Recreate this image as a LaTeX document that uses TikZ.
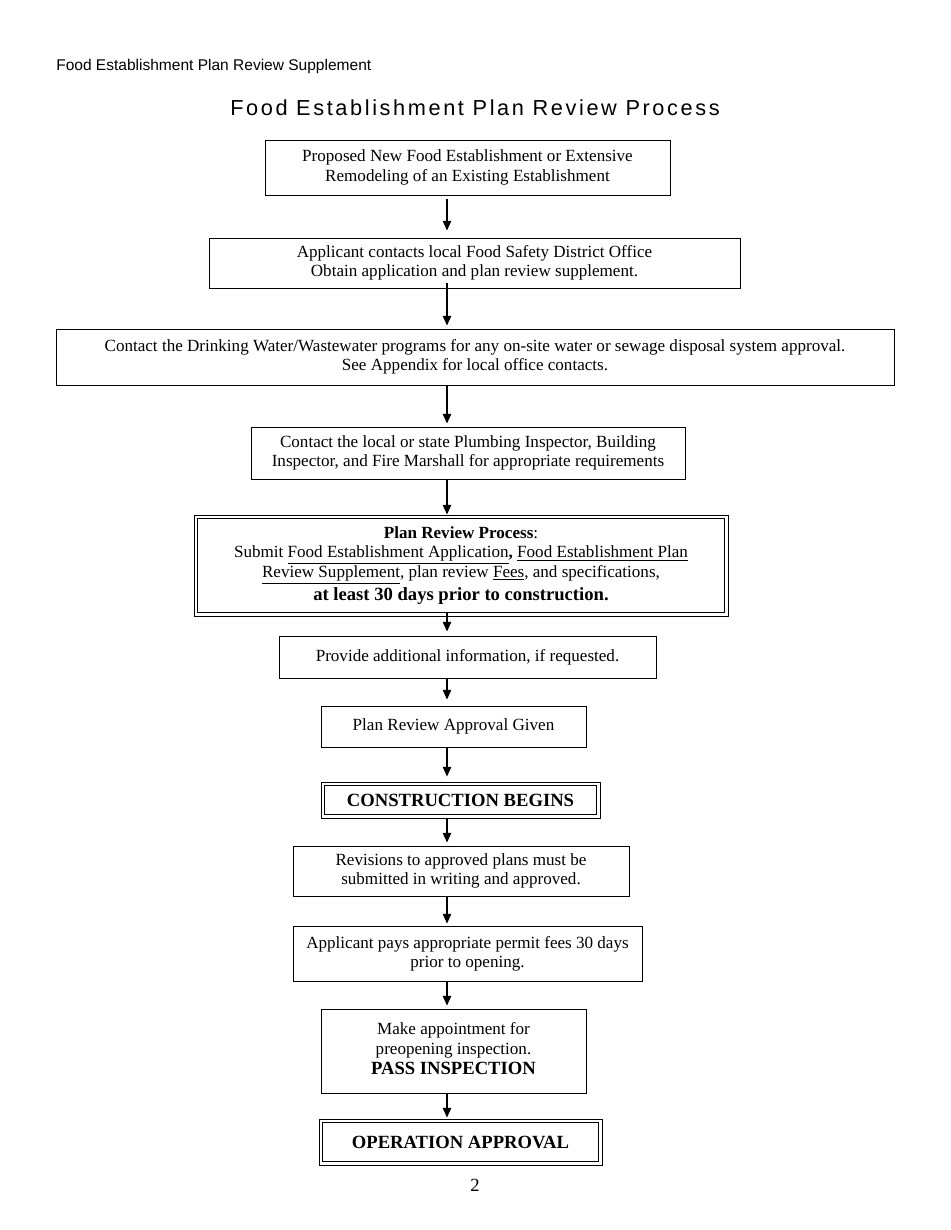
\documentclass[tikz,border=0pt]{standalone}
\usepackage{fontspec}
\setmainfont{Liberation Serif}
\newfontfamily\arialf{Liberation Sans}
\newfontfamily\arialsp[LetterSpace=12]{Liberation Sans}
\usetikzlibrary{arrows.meta}
\def\pxu{0.6442pt}
\tikzset{
  box/.style={draw, line width=0.6pt, inner sep=0pt, align=center,
    font=\fontsize{11}{12.4}\selectfont},
  inbox/.style={line width=0.6pt},
  bigb/.style={font=\fontsize{12}{14}\selectfont\bfseries},
  arr/.style={line width=0.7pt, -{Triangle[length=6.2pt,width=5.4pt]}},
}
\begin{document}
\begin{tikzpicture}[x=\pxu,y=-\pxu]
\useasboundingbox[fill=white] (0,0) rectangle (950,1230);
\coordinate (ax) at (447,0);
\node[anchor=base west, inner sep=0pt, font=\arialf\fontsize{10}{12}\selectfont] (hdr) at (56,70) {Food Establishment Plan Review Supplement};
\node[font=\arialsp\fontsize{14}{16}\selectfont] (ttl) at (475,108) {Food Establishment Plan Review Process};

\node[box, minimum width=405*\pxu, minimum height=55*\pxu] (b1) at (467.5,167.5)
  {Proposed New Food Establishment or Extensive\\Remodeling of an Existing Establishment};
\node[box, minimum width=531*\pxu, minimum height=50*\pxu] (b2) at (474.5,263)
  {Applicant contacts local Food Safety District Office\\Obtain application and plan review supplement.};
\node[box, minimum width=838*\pxu, minimum height=56*\pxu] (b3) at (475,357)
  {Contact the Drinking Water/Wastewater programs for any on-site water or sewage disposal system approval.\\See Appendix for local office contacts.};
\node[box, minimum width=434*\pxu, minimum height=52*\pxu] (b4) at (468,453)
  {Contact the local or state Plumbing Inspector, Building\\Inspector, and Fire Marshall for appropriate requirements};
\node[box, minimum width=534*\pxu, minimum height=101*\pxu] (b5) at (461,565.5)
  {\textbf{Plan Review Process}:\\
   Submit \underline{Food Establishment Application}\textbf{,} \underline{Food Establishment Plan}\\
   \underline{Review Supplement}, plan review \underline{Fees}, and specifications,\\[1.2pt]
   {\fontsize{12}{12}\selectfont\bfseries at least 30 days prior to construction.}};
\draw[inbox] ([shift={(4,4)}]b5.north west) rectangle ([shift={(-4,-4)}]b5.south east);
\node[box, minimum width=377*\pxu, minimum height=42*\pxu] (b6) at (467.5,657)
  {Provide additional information, if requested.};
\node[box, minimum width=265*\pxu, minimum height=41*\pxu] (b7) at (453.5,726.5)
  {\raisebox{3pt}{Plan Review Approval Given}};
\node[box, bigb, minimum width=279*\pxu, minimum height=36*\pxu] (b8) at (460.5,800)
  {CONSTRUCTION BEGINS};
\draw[inbox] ([shift={(4,4)}]b8.north west) rectangle ([shift={(-4,-4)}]b8.south east);
\node[box, minimum width=336*\pxu, minimum height=50*\pxu] (b9) at (461,871)
  {Revisions to approved plans must be\\submitted in writing and approved.};
\node[box, minimum width=349*\pxu, minimum height=55*\pxu] (b10) at (467.5,953.5)
  {Applicant pays appropriate permit fees 30 days\\prior to opening.};
\node[box, minimum width=265*\pxu, minimum height=84*\pxu] (b11) at (453.5,1051)
  {\raisebox{2.5pt}{\begin{tabular}{@{}c@{}}Make appointment for\\preopening inspection.\\[1pt]{\fontsize{12}{12}\selectfont\bfseries PASS INSPECTION}\end{tabular}}};
\node[box, bigb, minimum width=283*\pxu, minimum height=46*\pxu] (b12) at (460.5,1142)
  {OPERATION APPROVAL};
\draw[inbox] ([shift={(4,4)}]b12.north west) rectangle ([shift={(-4,-4)}]b12.south east);
\node[font=\fontsize{12}{14}\selectfont] (pg) at (475,1185) {2};

\draw[arr, shorten <=4*\pxu, shorten >=7*\pxu] (b1.south -| ax) -- (b2.north -| ax);
\draw[arr, shorten <=-5*\pxu, shorten >=3*\pxu] (b2.south -| ax) -- (b3.north -| ax);
\draw[arr, shorten >=3*\pxu] (b3.south -| ax) -- (b4.north -| ax);
\draw[arr] (b4.south -| ax) -- (b5.north -| ax);
\draw[arr, shorten <=-4*\pxu, shorten >=4*\pxu] (b5.south -| ax) -- (b6.north -| ax);
\draw[arr, shorten >=6*\pxu] (b6.south -| ax) -- (b7.north -| ax);
\draw[arr, shorten >=5*\pxu] (b7.south -| ax) -- (b8.north -| ax);
\draw[arr, shorten >=3*\pxu] (b8.south -| ax) -- (b9.north -| ax);
\draw[arr, shorten >=2*\pxu] (b9.south -| ax) -- (b10.north -| ax);
\draw[arr, shorten >=3*\pxu] (b10.south -| ax) -- (b11.north -| ax);
\draw[arr, shorten >=1*\pxu] (b11.south -| ax) -- (b12.north -| ax);
\end{tikzpicture}
\end{document}
